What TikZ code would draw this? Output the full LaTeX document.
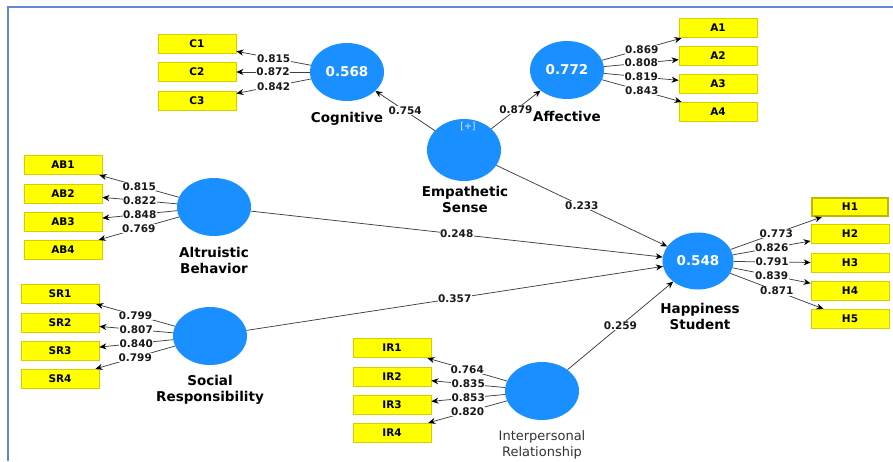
\documentclass[tikz,border=0pt]{standalone}
\usepackage{fontspec}
\setmainfont{DejaVu Sans}
\usetikzlibrary{shapes.geometric,arrows.meta}
\definecolor{lvblue}{RGB}{26,143,255}
\definecolor{indfill}{RGB}{255,255,0}
\definecolor{indborder}{RGB}{212,206,0}
\definecolor{hborder}{RGB}{190,185,0}
\definecolor{frameblue}{RGB}{95,135,215}
\begin{document}
\begin{tikzpicture}[x=1pt,y=-1pt,
  lv/.style={ellipse,fill=lvblue,minimum width=74pt,minimum height=58pt,inner sep=0pt,text=white,font=\fontsize{13.5}{16}\selectfont\bfseries},
  ind/.style={rectangle,fill=indfill,draw=indborder,line width=0.8pt,minimum width=78pt,minimum height=19.5pt,inner sep=0pt,font=\fontsize{10.5}{12}\selectfont\bfseries},
  lvname/.style={align=center,font=\fontsize{13.5}{16}\selectfont\bfseries,text=black},
  load/.style={draw=black!75,line width=0.75pt,-{Stealth[length=7pt,width=6pt,color=black]}},
  coef/.style={fill=white,inner sep=0.6pt,font=\fontsize{10.5}{12}\selectfont\bfseries,text=black!90}
]
\useasboundingbox (0,0) rectangle (893,461);
\draw[frameblue,line width=1.5pt] (8,461) -- (8,7) -- (893,7);

% latent variables
\node[lv] (cog) at (347,72) {0.568};
\node[lv] (aff) at (567,70) {0.772};
\node[lv,minimum height=62pt] (emp) at (464,150) {};
\node[font=\fontsize{9.5}{10}\selectfont,text=white!85!lvblue] (plus) at (468,127) {[+]};
\node[lv] (alt) at (214,207) {};
\node[lv] (soc) at (210,336) {};
\node[lv] (ipr) at (542,391) {};
\node[lv,minimum width=71pt,minimum height=57pt] (hap) at (698,261) {0.548};

% names
\node[lvname] (cogn) at (347,119) {Cognitive};
\node[lvname] (affn) at (567,116) {Affective};
\node[lvname] (empn) at (465,199) {Empathetic\\Sense};
\node[lvname] (altn) at (214,260.5) {Altruistic\\Behavior};
\node[lvname] (socn) at (210,390) {Social\\Responsibility};
\node[align=center,font=\fontsize{13}{16}\selectfont,text=black!80] (iprn) at (542,445) {Interpersonal\\Relationship};
\node[lvname] (hapn) at (700,316.5) {Happiness\\Student};

% indicators
\node[ind] (C1) at (197,44) {C1};
\node[ind] (C2) at (197,72) {C2};
\node[ind] (C3) at (197,101) {C3};
\node[ind] (A1) at (718,28) {A1};
\node[ind] (A2) at (718,56) {A2};
\node[ind] (A3) at (718,84) {A3};
\node[ind] (A4) at (718,112) {A4};
\node[ind] (AB1) at (63,165) {AB1};
\node[ind] (AB2) at (63,194) {AB2};
\node[ind] (AB3) at (63,222) {AB3};
\node[ind] (AB4) at (63,250) {AB4};
\node[ind] (SR1) at (60,294) {SR1};
\node[ind] (SR2) at (60,323) {SR2};
\node[ind] (SR3) at (60,351) {SR3};
\node[ind] (SR4) at (60,379) {SR4};
\node[ind] (IR1) at (392,348) {IR1};
\node[ind] (IR2) at (392,377) {IR2};
\node[ind] (IR3) at (392,405) {IR3};
\node[ind] (IR4) at (392,433) {IR4};
\node[ind,draw=hborder,line width=2pt,minimum width=76pt,minimum height=18pt] (H1) at (850,207) {H1};
\node[ind] (H2) at (850,234) {H2};
\node[ind] (H3) at (850,263) {H3};
\node[ind] (H4) at (850,291) {H4};
\node[ind] (H5) at (850,319) {H5};

% loadings
\draw[load] (cog) -- node[coef]{0.815} (C1);
\draw[load] (cog) -- node[coef]{0.872} (C2);
\draw[load] (cog) -- node[coef]{0.842} (C3);
\draw[load] (aff) -- node[coef]{0.869} (A1);
\draw[load] (aff) -- node[coef]{0.808} (A2);
\draw[load] (aff) -- node[coef]{0.819} (A3);
\draw[load] (aff) -- node[coef]{0.843} (A4);
\draw[load] (alt) -- node[coef]{0.815} (AB1);
\draw[load] (alt) -- node[coef]{0.822} (AB2);
\draw[load] (alt) -- node[coef]{0.848} (AB3);
\draw[load] (alt) -- node[coef]{0.769} (AB4);
\draw[load] (soc) -- node[coef]{0.799} (SR1);
\draw[load] (soc) -- node[coef]{0.807} (SR2);
\draw[load] (soc) -- node[coef]{0.840} (SR3);
\draw[load] (soc) -- node[coef]{0.799} (SR4);
\draw[load] (ipr) -- node[coef]{0.764} (IR1);
\draw[load] (ipr) -- node[coef]{0.835} (IR2);
\draw[load] (ipr) -- node[coef]{0.853} (IR3);
\draw[load] (ipr) -- node[coef]{0.820} (IR4);
\draw[load] (hap) -- node[coef]{0.773} (H1);
\draw[load] (hap) -- node[coef]{0.826} (H2);
\draw[load] (hap) -- node[coef]{0.791} (H3);
\draw[load] (hap) -- node[coef]{0.839} (H4);
\draw[load] (hap) -- node[coef]{0.871} (H5);

% structural paths
\draw[load] (emp) -- node[coef]{0.754} (cog);
\draw[load] (emp) -- node[coef]{0.879} (aff);
\draw[load] (emp) -- node[coef]{0.233} (hap);
\draw[load] (alt) -- node[coef]{0.248} (hap);
\draw[load] (soc) -- node[coef]{0.357} (hap);
\draw[load] (ipr) -- node[coef]{0.259} (hap);
\end{tikzpicture}
\end{document}
